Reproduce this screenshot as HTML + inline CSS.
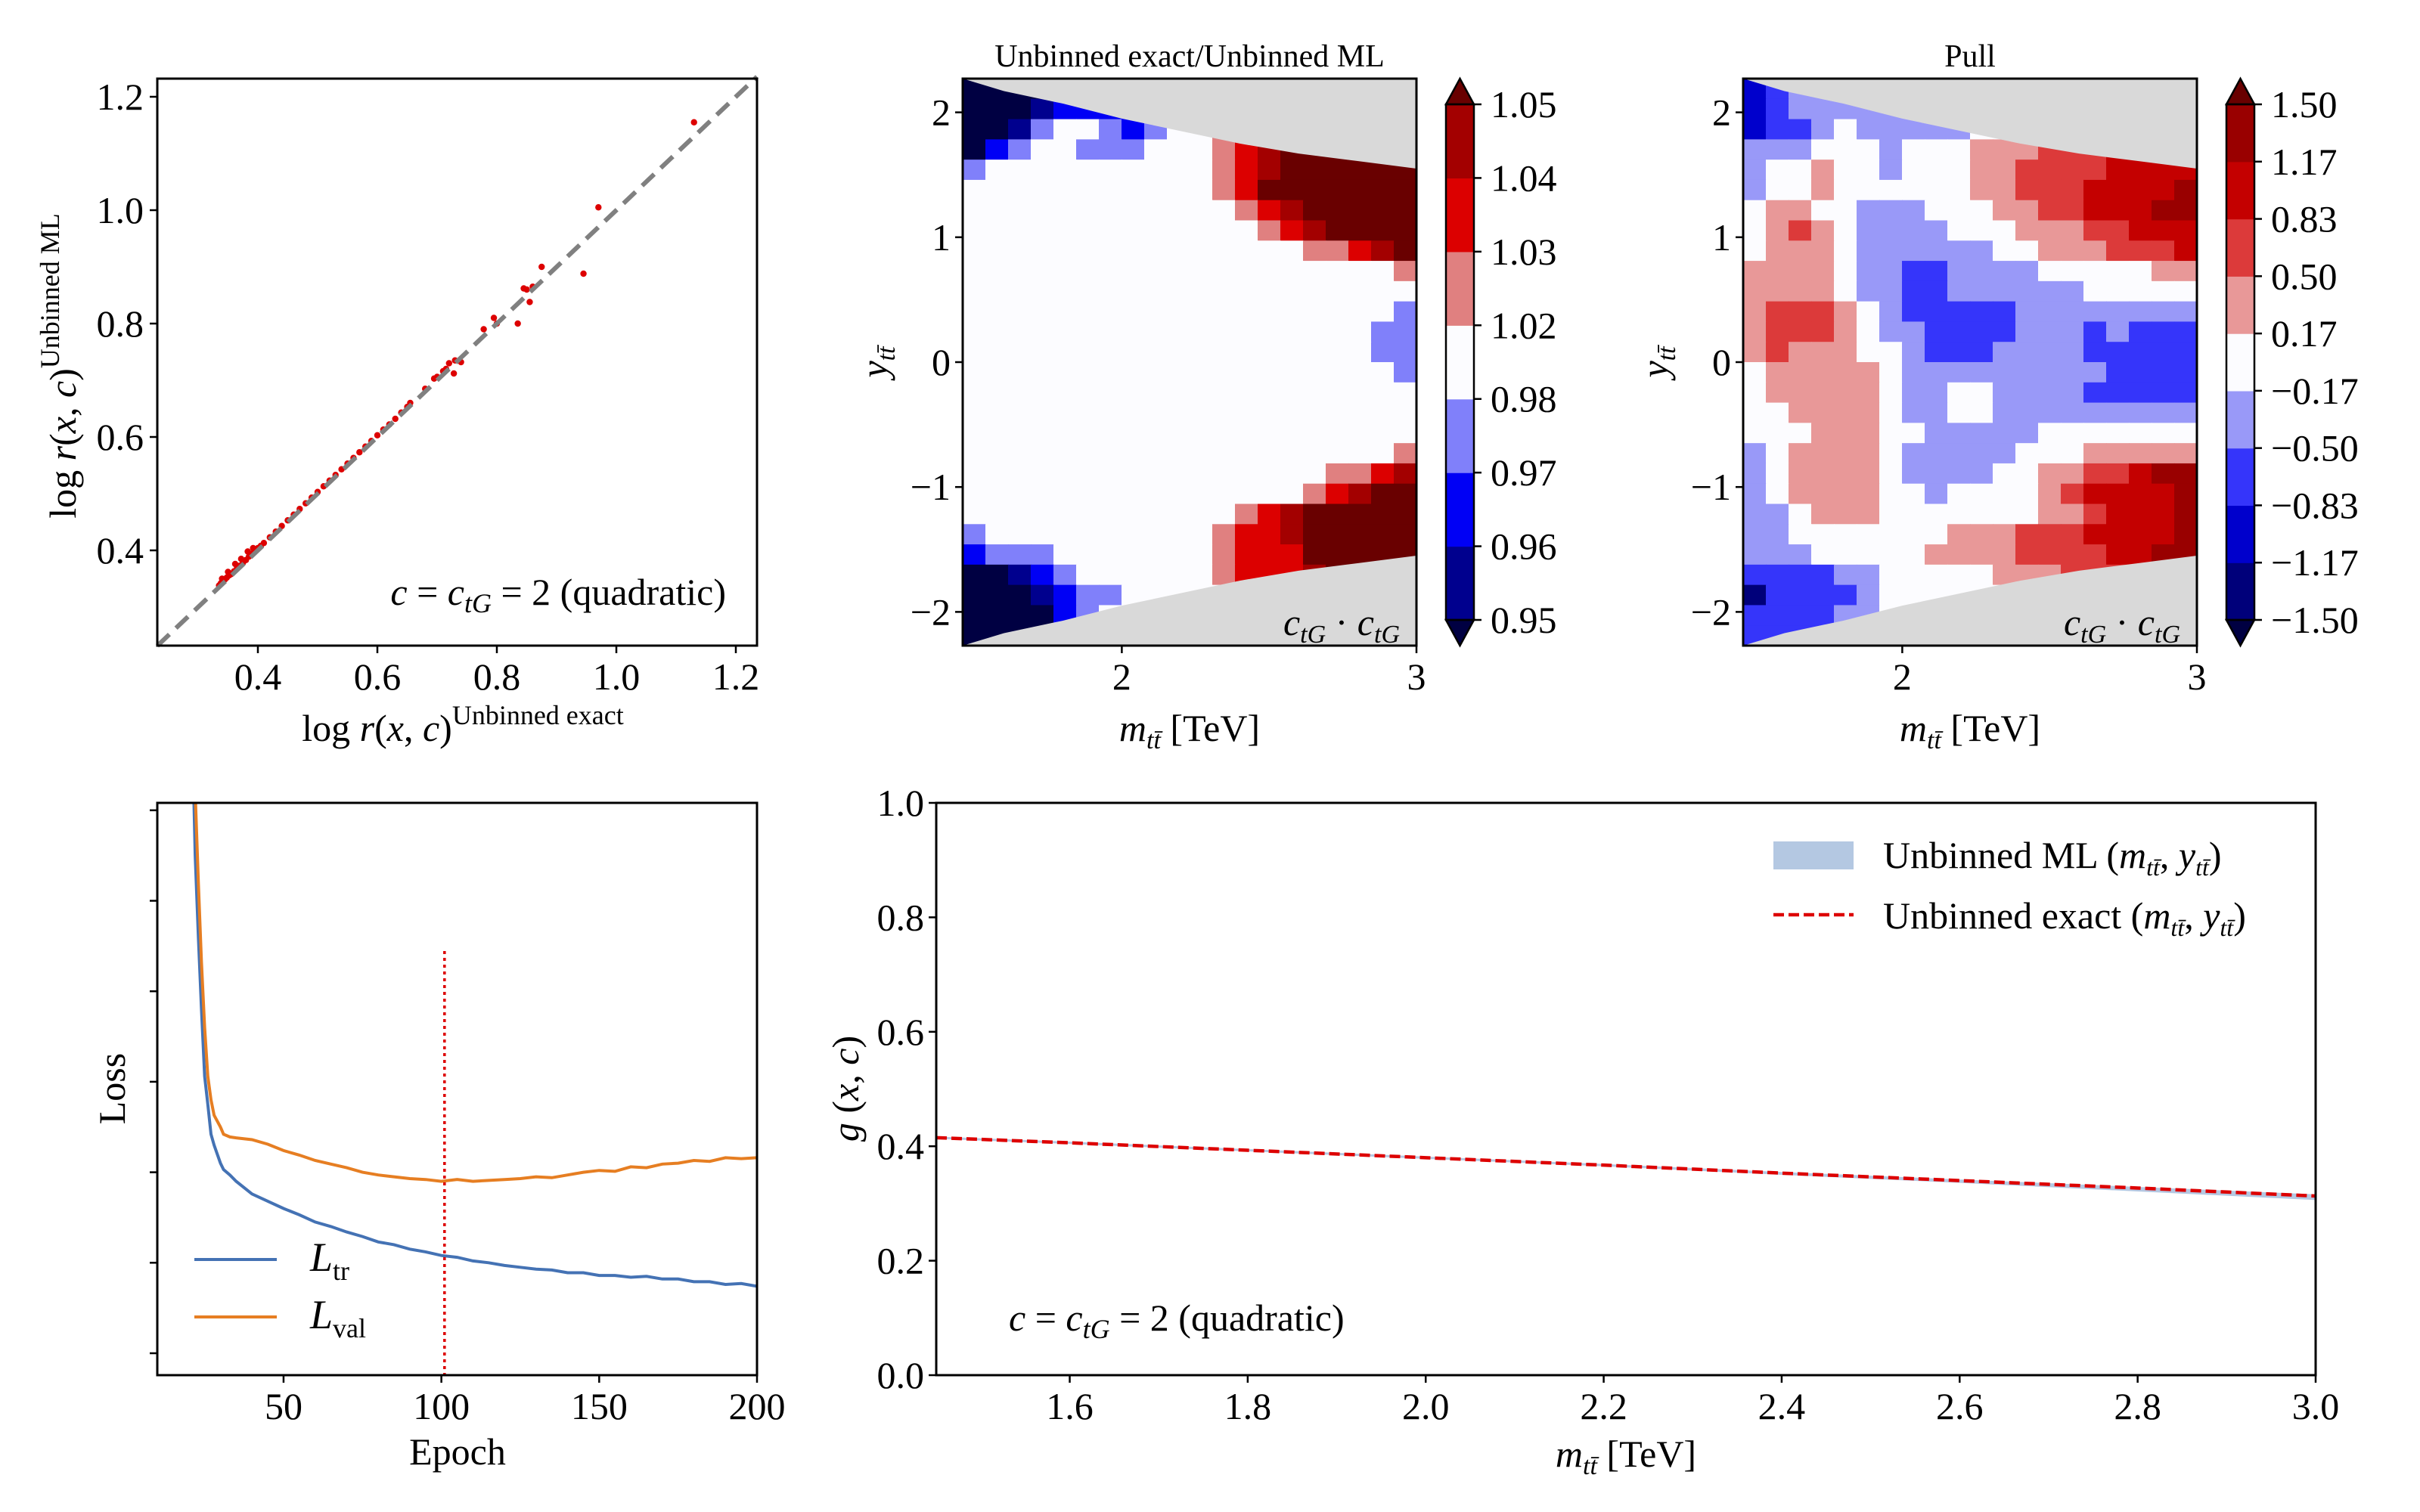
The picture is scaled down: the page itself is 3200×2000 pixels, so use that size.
<!DOCTYPE html>
<html><head><meta charset="utf-8">
<style>
html,body{margin:0;padding:0;background:#fff;}
svg{display:block;font-family:"Liberation Serif",serif;}
</style></head>
<body>
<svg id="fig" width="3200" height="2000" viewBox="0 0 3200 2000" xmlns="http://www.w3.org/2000/svg"></svg>
<script>
// ---------- DATA ----------
const scatterX = [0.335,0.338,0.342,0.345,0.348,0.352,0.355,0.36,0.365,0.37,0.375,0.38,0.385,0.39,0.395,0.40,0.405,0.41,0.42,0.43,0.44,0.45,0.46,0.47,0.48,0.49,0.50,0.51,0.52,0.53,0.54,0.55,0.56,0.57,0.58,0.59,0.60,0.61,0.62,0.63,0.64,0.65,0.655,0.68,0.695,0.70,0.71,0.715,0.72,0.728,0.73,0.74,0.778,0.795,0.80,0.835,0.845,0.85,0.855,0.86,0.875,0.945,0.97,1.13,0.34,0.35,0.362,0.372,0.383,0.392];
const scatterY = [0.338,0.342,0.345,0.349,0.352,0.356,0.358,0.363,0.368,0.373,0.378,0.383,0.389,0.394,0.399,0.404,0.408,0.413,0.423,0.433,0.443,0.453,0.463,0.473,0.483,0.493,0.503,0.513,0.523,0.533,0.543,0.553,0.563,0.573,0.583,0.593,0.603,0.613,0.622,0.632,0.643,0.653,0.66,0.685,0.703,0.706,0.716,0.72,0.73,0.712,0.735,0.732,0.79,0.81,0.80,0.80,0.862,0.86,0.838,0.865,0.90,0.888,1.005,1.155,0.35,0.362,0.376,0.385,0.398,0.404];
const lossEpochs = [21,22,23,24,25,26,27,28,30,31,33,35,40,45,50,55,60,65,70,75,80,85,90,95,100,105,110,115,120,125,130,135,140,145,150,155,160,165,170,175,180,185,190,195,200];
const lossTrain = [7.0,5.5,4.6,3.8,3.06,2.75,2.42,2.3,2.1,2.03,1.97,1.9,1.76,1.68,1.6,1.53,1.45,1.4,1.34,1.29,1.23,1.2,1.15,1.12,1.08,1.06,1.02,1.0,0.97,0.95,0.93,0.92,0.89,0.89,0.86,0.86,0.84,0.85,0.82,0.82,0.79,0.79,0.76,0.77,0.74];
const lossVal = [7.0,6.2,5.2,4.32,3.6,3.06,2.8,2.63,2.5,2.42,2.39,2.38,2.36,2.31,2.24,2.19,2.13,2.09,2.05,2.0,1.97,1.95,1.93,1.92,1.9,1.92,1.9,1.91,1.92,1.93,1.95,1.94,1.97,2.0,2.02,2.01,2.06,2.05,2.09,2.1,2.13,2.12,2.16,2.15,2.16];
const lossTickCount = [0,1,2,3,4,5,6];
const stopEpoch = 101;
const epochTicks = [50,100,150,200];
const gMass = [1.45,1.6,1.8,2.0,2.2,2.4,2.6,2.8,3.0];
const gExact = [0.415,0.406,0.393,0.380,0.367,0.353,0.340,0.327,0.313];
const gMLlow = [0.413,0.404,0.391,0.378,0.365,0.350,0.336,0.321,0.306];
const gMLhigh = [0.417,0.408,0.395,0.382,0.369,0.355,0.342,0.329,0.316];
const gXTicks = [1.6,1.8,2.0,2.2,2.4,2.6,2.8,3.0];
const gYTicks = [0.0,0.2,0.4,0.6,0.8,1.0];
const boundM = [1.46,1.6,1.8,2.0,2.2,2.4,2.6,2.8,3.0];
const boundY = [2.27,2.17,2.07,1.95,1.85,1.75,1.67,1.61,1.55];
const ratioGrid = [
"aaaacccwwwwwwwwXXXXX",
"aaabcccccwwwwwwXXXXX",
"aabdwwdcdwwprRXXXXXX",
"acdwwdddwwwprRXXXXXX",
"dwwwwwwwwwwprRXXXXXX",
"wwwwwwwwwwwprXXXXXXX",
"wwwwwwwwwwwwprRXXXXX",
"wwwwwwwwwwwwwprRXXXX",
"wwwwwwwwwwwwwwwpprRX",
"wwwwwwwwwwwwwwwwwwwp",
"wwwwwwwwwwwwwwwwwwww",
"wwwwwwwwwwwwwwwwwwwd",
"wwwwwwwwwwwwwwwwwwdd",
"wwwwwwwwwwwwwwwwwwdd",
"wwwwwwwwwwwwwwwwwwwd",
"wwwwwwwwwwwwwwwwwwww",
"wwwwwwwwwwwwwwwwwwww",
"wwwwwwwwwwwwwwwwwwww",
"wwwwwwwwwwwwwwwwwwwp",
"wwwwwwwwwwwwwwwwpprR",
"wwwwwwwwwwwwwwwprRXX",
"wwwwwwwwwwwwprRXXXXX",
"dwwwwwwwwwwprrRXXXXX",
"cdddwwwwwwwprrrXXXXX",
"aabcdwwwwwwprrrRXXXX",
"aaabcddwwwwwwwwwwwww",
"aaaacdwwwwwwwwwwwwww",
"aaaacwwwwwwwwwwwwwww"];
const pullGrid = [
"Bbllllllllwwqqsstttt",
"Bblllllllllwwqsstttt",
"Bbblwlllllwwqqsstttt",
"lllwwwlwwwqqqsssttTT",
"lwwqwwlwwwqqsssstttt",
"lwwqwwwwwwqqsssttttT",
"wqqwwlllwwwqqsstttTT",
"wqsqwllllwwwqqqssttt",
"wqqqwllllllwwqqqssst",
"qqqqwllbbllllwwwwwqq",
"qqqqwllbbllllllwwwww",
"qsssqwlbbbbbllllllll",
"qsssqwllbbbblllblbbb",
"qsqqqwwlbbbllllbbbbb",
"wqqqqqwlllllllllbbbb",
"wqqqqqwllwwllllbbbbb",
"wwqqqqwllwwlllllllll",
"wwwqqqwwlllllwwwwwww",
"lwqqqqwlllllwwwqqqqq",
"lwqqqqwllllwwqqsstTT",
"lwqqqqwwlwwwwqsttttT",
"llwqqqwwwwwwwqqstttT",
"llwwwwwwwqqqsssttttT",
"lllwwwwwqqqqssssttTT",
"bbbbllwwwwwqqqssssss",
"nbbbblwwwwwwwwwwwwww",
"bbbbllwwwwwwwwwwwwww",
"bbbblwwwwwwwwwwwwwww"];
const ratioTickLabels = ["0.95","0.96","0.97","0.98","1.02","1.03","1.04","1.05"];
const pullTickLabels = ["\u22121.50","\u22121.17","\u22120.83","\u22120.50","\u22120.17","0.17","0.50","0.83","1.17","1.50"];
const heatYTicks = [-2,-1,0,1,2];
const heatXTicks = [2,3];
const scatterTicks = [0.4,0.6,0.8,1.0,1.2];

// ---------- STYLE ----------
const ratioColors = {a:"#000042",b:"#00008e",c:"#0000f5",d:"#8080fa",w:"#fcfcff",p:"#e08080",r:"#dc0000",R:"#a30000",X:"#690000"};
const ratioBins = ["b","c","d","w","p","r","R"];
const pullColors = {n:"#00007a",B:"#0000cc",b:"#3535fa",l:"#9999f8",w:"#fcfcff",q:"#e89898",s:"#dc3a3a",t:"#c40000",T:"#990000"};
const pullBins = ["n","B","b","l","w","q","s","t","T"];

const NS="http://www.w3.org/2000/svg";
const fig=document.getElementById('fig');
function mk(tag,attrs,parent,text){const e=document.createElementNS(NS,tag);for(const k in attrs)e.setAttribute(k,attrs[k]);if(text!==undefined)e.textContent=text;(parent||fig).appendChild(e);return e;}
function grp(name){const g=mk('g',{});return g;}
function lin(d0,d1,r0,r1){return v=>r0+(v-d0)*(r1-r0)/(d1-d0);}
const FS=50;

// ---------- PANEL 1 ----------
(function(){
  const L=208,R=1001,T=104,B=854;
  const sx=lin(0.4,0.6,341,499), sy=lin(0.4,0.6,728,578);
  const g=grp('scatter-panel');
  const dots=grp('scatter-points'); g.appendChild(dots);
  const diag=mk('line',{x1:L,y1:sy(0.4+(L-341)/790),x2:R,y2:sy(0.4+(R-341)/790),stroke:'#808080','stroke-width':6,'stroke-dasharray':'22,12'},g);
  
  
  for(let i=0;i<scatterX.length;i++){
    const c=mk('circle',{cx:sx(scatterX[i]),cy:sy(scatterY[i]),r:4.2,fill:'#dd0000'},dots);
    
    
  }
  const fr=mk('rect',{x:L,y:T,width:R-L,height:B-T,fill:'none',stroke:'#000','stroke-width':3},g);
  
  
  scatterTicks.forEach(t=>{
    const x=sx(t); mk('line',{x1:x,y1:B,x2:x,y2:B+10,stroke:'#000','stroke-width':2.5},g);
    const tx=mk('text',{x:x,y:B+58,'font-size':FS,'text-anchor':'middle'},g,t.toFixed(1));
    
    const y=sy(t); if(y>T){mk('line',{x1:L-10,y1:y,x2:L,y2:y,stroke:'#000','stroke-width':2.5},g);
    const ty=mk('text',{x:L-18,y:y+17,'font-size':FS,'text-anchor':'end'},g,t.toFixed(1));
    }
  });
  const xl=mk('text',{x:612,y:980,'font-size':FS,'text-anchor':'middle'},g);
  
  xl.innerHTML='log <tspan font-style="italic">r</tspan>(<tspan font-style="italic">x</tspan>, <tspan font-style="italic">c</tspan>)<tspan font-size="36" dy="-22">Unbinned exact</tspan>';
  const yl=mk('text',{x:0,y:0,'font-size':FS,'text-anchor':'middle',transform:'translate(100,484) rotate(-90)'},g);
  
  yl.innerHTML='log <tspan font-style="italic">r</tspan>(<tspan font-style="italic">x</tspan>, <tspan font-style="italic">c</tspan>)<tspan font-size="36" dy="-22">Unbinned ML</tspan>';
  const an=mk('text',{x:960,y:800,'font-size':FS,'text-anchor':'end'},g);
  
  an.innerHTML='<tspan font-style="italic">c</tspan> = <tspan font-style="italic">c</tspan><tspan font-size="36" dy="10" font-style="italic">tG</tspan><tspan dy="-10"> = 2 (quadratic)</tspan>';
})();

// ---------- HEATMAPS ----------
function heatmap(name,L,grid,colors,bins,labels,title){
  const W=600,R=L+W,T=104,B=854;
  const sx=lin(1.46,3.0,L,R), sy=lin(2.27,-2.27,T,B);
  const g=grp(name);
  const cells=grp(name+'-cells'); g.appendChild(cells);
  const nr=grid.length, nc=grid[0].length;
  const dm=(3.0-1.46)/nc, dy=4.54/nr;
  for(let i=0;i<nr;i++)for(let j=0;j<nc;j++){
    const x=sx(1.46+j*dm), y=sy(2.27-i*dy);
    const r=mk('rect',{x:x,y:y,width:sx(1.46+(j+1)*dm)-x+0.8,height:sy(2.27-(i+1)*dy)-y+0.8,fill:colors[grid[i][j]]},cells);
    
    
  }
  let top='M'+L+','+T, bot='M'+L+','+B;
  boundM.forEach((m,k)=>{top+=' L'+sx(m)+','+sy(boundY[k]); bot+=' L'+sx(m)+','+sy(-boundY[k]);});
  top+=' L'+R+','+T+' Z'; bot+=' L'+R+','+B+' Z';
  const p1=mk('path',{d:top,fill:'#d9d9d9'},g);
  const p2=mk('path',{d:bot,fill:'#d9d9d9'},g);
  const fr=mk('rect',{x:L,y:T,width:W,height:750,fill:'none',stroke:'#000','stroke-width':3},g);
  
  heatYTicks.forEach(t=>{const y=sy(t);mk('line',{x1:L-10,y1:y,x2:L,y2:y,stroke:'#000','stroke-width':2.5},g);
    const tx=mk('text',{x:L-16,y:y+17,'font-size':FS,'text-anchor':'end'},g,(t<0?'\u2212':'')+Math.abs(t));
    });
  heatXTicks.forEach(t=>{const x=sx(t);mk('line',{x1:x,y1:B,x2:x,y2:B+10,stroke:'#000','stroke-width':2.5},g);
    const tx=mk('text',{x:x,y:B+58,'font-size':FS,'text-anchor':'middle'},g,String(t));
    });
  const xl=mk('text',{x:L+W/2,y:980,'font-size':FS,'text-anchor':'middle'},g);
  
  xl.innerHTML='<tspan font-style="italic">m</tspan><tspan font-size="34" dy="10" font-style="italic">tt̄</tspan><tspan dy="-10"> [TeV]</tspan>';
  const yl=mk('text',{x:0,y:0,'font-size':FS,'text-anchor':'middle',transform:'translate('+(L-100)+',479) rotate(-90)'},g);
  
  yl.innerHTML='<tspan font-style="italic">y</tspan><tspan font-size="34" dy="10" font-style="italic">tt̄</tspan>';
  const ti=mk('text',{x:L+W/2,y:88,'font-size':42,'text-anchor':'middle'},g,title);
  
  const an=mk('text',{x:R-22,y:840,'font-size':FS,'text-anchor':'end','font-style':'italic'},g);
  
  an.innerHTML='c<tspan font-size="34" dy="10">tG</tspan><tspan dy="-10" font-style="normal"> · </tspan>c<tspan font-size="34" dy="10">tG</tspan>';
  const cb=grp(name+'-colorbar'); g.appendChild(cb);
  const cx0=L+639, cx1=L+676, ct=138, cbt=820, nb=bins.length, bh=(cbt-ct)/nb;
  bins.forEach((b,k)=>{const r=mk('rect',{x:cx0,y:cbt-(k+1)*bh,width:cx1-cx0,height:bh+0.6,fill:colors[b]},cb);
    });
  const up=mk('path',{d:`M${cx0},${ct} L${(cx0+cx1)/2},104 L${cx1},${ct} Z`,fill:'#690000',stroke:'#000','stroke-width':2.5},cb);
  
  const dn=mk('path',{d:`M${cx0},${cbt} L${(cx0+cx1)/2},854 L${cx1},${cbt} Z`,fill:'#000042',stroke:'#000','stroke-width':2.5},cb);
  
  mk('rect',{x:cx0,y:ct,width:cx1-cx0,height:cbt-ct,fill:'none',stroke:'#000','stroke-width':2.5},cb);
  labels.forEach((lb,k)=>{const y=cbt-k*bh;mk('line',{x1:cx1,y1:y,x2:cx1+10,y2:y,stroke:'#000','stroke-width':2.5},cb);
    const tx=mk('text',{x:cx1+22,y:y+17,'font-size':FS},cb,lb);
    });
}
heatmap('ratio-heatmap',1273,ratioGrid,ratioColors,ratioBins,ratioTickLabels,'Unbinned exact/Unbinned ML');
heatmap('pull-heatmap',2305,pullGrid,pullColors,pullBins,pullTickLabels,'Pull');

// ---------- LOSS PANEL ----------
(function(){
  const L=208,R=1001,T=1062,B=1819;
  const sx=lin(10,200,L,R), sy=lin(0,1,1790,1670.3);
  const g=grp('loss-panel');
  const clip=mk('clipPath',{id:'lossclip'},g); mk('rect',{x:L,y:T,width:R-L,height:B-T},clip);
  function path(vals){return lossEpochs.map((e,i)=>(i?'L':'M')+sx(e).toFixed(1)+','+sy(vals[i]).toFixed(1)).join(' ');}
  const pt=mk('path',{d:path(lossTrain),fill:'none',stroke:'#4472b4','stroke-width':4,'clip-path':'url(#lossclip)'},g);
  
  const pv=mk('path',{d:path(lossVal),fill:'none',stroke:'#e67e22','stroke-width':4,'clip-path':'url(#lossclip)'},g);
  
  const vl=mk('line',{x1:sx(stopEpoch),y1:1258,x2:sx(stopEpoch),y2:B,stroke:'#dd0000','stroke-width':3.5,'stroke-dasharray':'4,5'},g);
  
  const fr=mk('rect',{x:L,y:T,width:R-L,height:B-T,fill:'none',stroke:'#000','stroke-width':3},g);
  
  lossTickCount.forEach(t=>{const y=sy(t);mk('line',{x1:L-10,y1:y,x2:L,y2:y,stroke:'#000','stroke-width':2.5},g);});
  epochTicks.forEach(t=>{const x=sx(t);mk('line',{x1:x,y1:B,x2:x,y2:B+10,stroke:'#000','stroke-width':2.5},g);
    const tx=mk('text',{x:x,y:B+58,'font-size':FS,'text-anchor':'middle'},g,String(t));
    });
  const xl=mk('text',{x:605,y:1937,'font-size':FS,'text-anchor':'middle'},g,'Epoch');
  
  const yl=mk('text',{x:0,y:0,'font-size':FS,'text-anchor':'middle',transform:'translate(165,1440) rotate(-90)'},g,'Loss');
  
  const lg=grp('loss-legend'); g.appendChild(lg);
  [['#4472b4','tr',1666],['#e67e22','val',1742]].forEach(e=>{
    const l=mk('line',{x1:257,y1:e[2],x2:366,y2:e[2],stroke:e[0],'stroke-width':4},lg);
    
    const t=mk('text',{x:410,y:e[2]+15,'font-size':54,'font-style':'italic'},lg);
    
    t.innerHTML='L<tspan font-style="normal" font-size="36" dy="12">'+e[1]+'</tspan>';
  });
})();

// ---------- g(x,c) PANEL ----------
(function(){
  const L=1238,R=3062,T=1062,B=1819;
  const sx=lin(1.45,3.0,L,R), sy=lin(0,1,B,T);
  const g=grp('g-panel');
  let band='M'+gMass.map((m,i)=>sx(m)+','+sy(gMLhigh[i])).join(' L');
  for(let i=gMass.length-1;i>=0;i--)band+=' L'+sx(gMass[i])+','+sy(gMLlow[i]);
  const bd=mk('path',{d:band+' Z',fill:'#b4c8e2'},g);
  
  const ln=mk('path',{d:'M'+gMass.map((m,i)=>sx(m)+','+sy(gExact[i])).join(' L'),fill:'none',stroke:'#dd0000','stroke-width':4.5,'stroke-dasharray':'14,6'},g);
  
  const fr=mk('rect',{x:L,y:T,width:R-L,height:B-T,fill:'none',stroke:'#000','stroke-width':3},g);
  
  gXTicks.forEach(t=>{const x=sx(t);mk('line',{x1:x,y1:B,x2:x,y2:B+10,stroke:'#000','stroke-width':2.5},g);
    const tx=mk('text',{x:x,y:B+58,'font-size':FS,'text-anchor':'middle'},g,t.toFixed(1));
    });
  gYTicks.forEach(t=>{const y=sy(t);mk('line',{x1:L-10,y1:y,x2:L,y2:y,stroke:'#000','stroke-width':2.5},g);
    const tx=mk('text',{x:L-16,y:y+17,'font-size':FS,'text-anchor':'end'},g,t.toFixed(1));
    });
  const xl=mk('text',{x:2150,y:1940,'font-size':FS,'text-anchor':'middle'},g);
  
  xl.innerHTML='<tspan font-style="italic">m</tspan><tspan font-size="34" dy="10" font-style="italic">tt̄</tspan><tspan dy="-10"> [TeV]</tspan>';
  const yl=mk('text',{x:0,y:0,'font-size':FS,'text-anchor':'middle',transform:'translate(1135,1440) rotate(-90)'},g);
  
  yl.innerHTML='<tspan font-style="italic">g</tspan> (<tspan font-style="italic">x</tspan>, <tspan font-style="italic">c</tspan>)';
  const an=mk('text',{x:1334,y:1760,'font-size':FS},g);
  
  an.innerHTML='<tspan font-style="italic">c</tspan> = <tspan font-style="italic">c</tspan><tspan font-size="36" dy="10" font-style="italic">tG</tspan><tspan dy="-10"> = 2 (quadratic)</tspan>';
  const lg=grp('g-legend'); g.appendChild(lg);
  const pr=mk('rect',{x:2345,y:1113,width:106,height:37,fill:'#b4c8e2'},lg);
  
  const pl=mk('line',{x1:2345,y1:1210,x2:2451,y2:1210,stroke:'#dd0000','stroke-width':4.5,'stroke-dasharray':'14,6'},lg);
  
  [['Unbinned ML (',1148],['Unbinned exact (',1228]].forEach(e=>{
    const t=mk('text',{x:2490,y:e[1],'font-size':FS},lg);
    
    t.innerHTML=e[0]+'<tspan font-style="italic">m</tspan><tspan font-size="32" dy="10" font-style="italic">tt̄</tspan><tspan dy="-10">, </tspan><tspan font-style="italic">y</tspan><tspan font-size="32" dy="10" font-style="italic">tt̄</tspan><tspan dy="-10">)</tspan>';
  });
})();
</script>
</body></html>
